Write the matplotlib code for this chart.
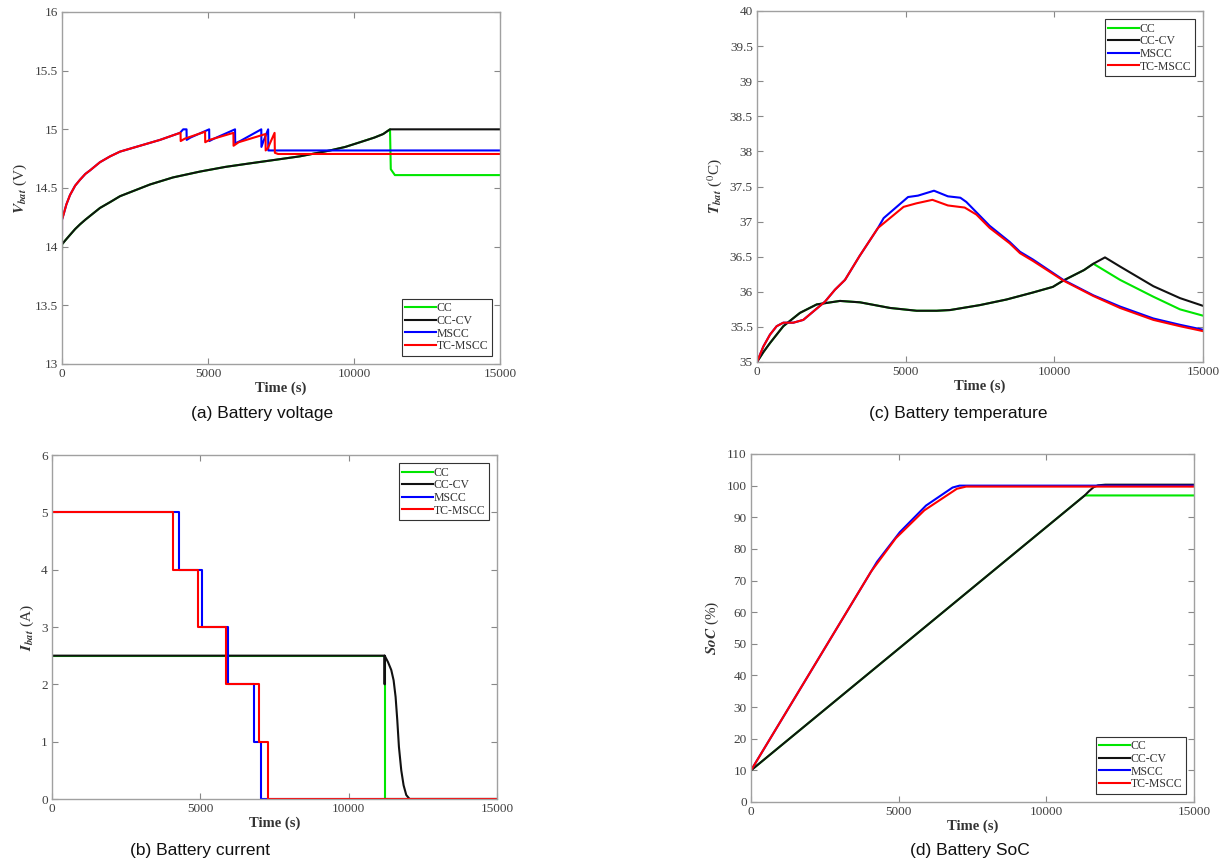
import matplotlib
matplotlib.use('Agg')
import matplotlib.pyplot as plt
from matplotlib.ticker import FixedLocator, FixedFormatter

plt.rcParams['font.family'] = ['Liberation Serif', 'DejaVu Serif']
plt.rcParams['mathtext.fontset'] = 'stix'

names = ['CC', 'CC-CV', 'MSCC', 'TC-MSCC']
cols = ['#00e600', '#111111', '#0000ff', '#ff0000']

# (a) battery voltage
v_cccv_t = [0, 0, 100, 274, 450, 616, 800, 1000, 1301, 1650, 1986, 2500, 3014, 3800, 4726, 5600, 6438, 7300, 8151, 9178, 9700, 10205, 10700, 11000, 11233, 15000]
v_cccv = [13.98, 14.02, 14.05, 14.10, 14.15, 14.19, 14.23, 14.27, 14.33, 14.38, 14.43, 14.48, 14.53, 14.59, 14.64, 14.68, 14.71, 14.74, 14.77, 14.82, 14.85, 14.89, 14.93, 14.96, 15.0, 15.0]
v_cc_t = v_cccv_t[:-1] + [11260, 11400, 15000]
v_cc = v_cccv[:-1] + [14.66, 14.61, 14.61]
v_ms_t = [0, 0, 60, 150, 274, 450, 616, 800, 959, 1301, 1650, 1986, 2671, 3356, 4041, 4150, 4265, 4270, 4400, 5040, 5045, 5200, 5926, 5931, 6100, 6825, 6830, 6900, 7060, 7065, 15000]
v_ms = [14.10, 14.23, 14.28, 14.36, 14.44, 14.52, 14.57, 14.62, 14.65, 14.72, 14.77, 14.81, 14.86, 14.91, 14.97, 15.0, 15.0, 14.91, 14.93, 15.0, 14.90, 14.92, 15.0, 14.88, 14.90, 15.0, 14.85, 14.90, 15.0, 14.82, 14.82]
v_tc_t = [0, 0, 60, 150, 274, 450, 616, 800, 959, 1301, 1650, 1986, 2671, 3356, 4041, 4060, 4065, 4200, 4900, 4905, 5050, 5870, 5875, 6050, 6970, 6975, 7050, 7280, 7290, 7400, 15000]
v_tc = [14.10, 14.23, 14.28, 14.36, 14.44, 14.52, 14.57, 14.62, 14.65, 14.72, 14.77, 14.81, 14.86, 14.91, 14.97, 14.97, 14.90, 14.92, 14.98, 14.89, 14.91, 14.97, 14.86, 14.89, 14.96, 14.82, 14.84, 14.97, 14.80, 14.79, 14.79]

# (b) battery current
i_cc_t = [0, 11212, 15000]
i_cc = [2.5, 0, 0]
i_cccv_t = [0, 11212, 11212, 11213, 11324, 11436, 11515, 11582, 11638, 11694, 11773, 11851, 11941, 12053, 15000]
i_cccv = [2.5, 2.5, 2.0, 2.5, 2.39, 2.25, 2.07, 1.78, 1.38, 0.91, 0.5, 0.24, 0.07, 0.0, 0.0]
i_ms_t = [0, 4265, 5040, 5926, 6825, 7060, 15000]
i_ms = [5, 4, 3, 2, 1, 0, 0]
i_tc_t = [0, 4063, 4905, 5870, 6970, 7284, 15000]
i_tc = [5, 4, 3, 2, 1, 0, 0]

# (c) battery temperature
t_cccv_t = [0, 213, 437, 885, 1446, 2007, 2791, 3464, 4473, 5370, 6043, 6491, 7490, 8390, 9280, 9950, 10300, 11000, 11312, 11704, 12210, 13330, 14226, 15000]
t_cccv = [35.0, 35.14, 35.27, 35.51, 35.70, 35.82, 35.87, 35.85, 35.77, 35.73, 35.73, 35.74, 35.81, 35.89, 35.99, 36.07, 36.16, 36.31, 36.40, 36.49, 36.36, 36.08, 35.91, 35.80]
t_cc_t = t_cccv_t[:19] + [12210, 13330, 14226, 15000]
t_cc = t_cccv[:19] + [36.17, 35.93, 35.75, 35.66]
t_tc_t = [0, 213, 437, 661, 885, 1222, 1558, 1894, 2287, 2623, 2960, 3450, 4070, 4930, 5360, 5900, 6420, 6985, 7380, 7825, 8500, 8845, 9280, 10302, 11312, 12210, 13330, 14226, 15000]
t_tc = [35.0, 35.22, 35.39, 35.51, 35.56, 35.56, 35.60, 35.72, 35.86, 36.03, 36.17, 36.51, 36.91, 37.21, 37.26, 37.31, 37.23, 37.20, 37.10, 36.91, 36.69, 36.55, 36.44, 36.16, 35.94, 35.77, 35.60, 35.51, 35.44]
t_ms_t = t_tc_t[:13] + [4260, 5080, 5415, 5953, 6420, 6840, 7040, 7825, 8500, 8845, 9280, 10302, 11312, 12210, 13330, 14226, 15000]
t_ms = t_tc[:13] + [37.05, 37.35, 37.37, 37.44, 37.36, 37.34, 37.28, 36.94, 36.71, 36.57, 36.46, 36.17, 35.95, 35.79, 35.62, 35.53, 35.46]

# (d) battery SoC
s_cccv_t = [0, 11300, 11450, 11600, 11750, 12000, 15000]
s_cccv = [10, 96.9, 98.3, 99.5, 100.1, 100.3, 100.3]
s_cc_t = [0, 11300, 15000]
s_cc = [10, 96.9, 96.9]
s_ms_t = [0, 4265, 5040, 5926, 6825, 7060, 15000]
s_ms = [10, 75.9, 85.3, 93.7, 99.4, 100.0, 100.0]
s_tc_t = [0, 4063, 4905, 5870, 6970, 7284, 15000]
s_tc = [10, 72.8, 83.4, 92.2, 99.0, 99.7, 99.7]

x_ticks = [0, 5000, 10000, 15000]
x_labels = ['0', '5000', '10000', '15000']

W, H = 1228, 864
fig = plt.figure(figsize=(W / 100, H / 100), dpi=100)


def box(l, t, r, b):
    return [l / W, 1 - b / H, (r - l) / W, (b - t) / H]


def style(ax, yticks, ylabel, legloc):
    ax.set_xlim(0, 15000)
    ax.set_ylim(yticks[0], yticks[-1])
    ax.xaxis.set_major_locator(FixedLocator(x_ticks))
    ax.xaxis.set_major_formatter(FixedFormatter(x_labels))
    ax.yaxis.set_major_locator(FixedLocator(yticks))
    ax.yaxis.set_major_formatter(FixedFormatter(['%g' % y for y in yticks]))
    ax.tick_params(direction='in', top=True, right=True, length=4, width=0.8,
                   color='#888888', labelcolor='#404040', labelsize=9.5, pad=3)
    for s in ax.spines.values():
        s.set_color('#a0a0a0')
        s.set_linewidth(1.0)
    ax.set_xlabel('Time (s)', fontweight='bold', fontsize=10.5, color='#333333', labelpad=1)
    ax.set_ylabel(ylabel, fontsize=11, color='#333333', labelpad=4)
    leg = ax.legend(loc=legloc, fontsize=8.5, handlelength=2.6, handletextpad=0.05,
                    labelspacing=0.05, borderpad=0.3, borderaxespad=0.7,
                    fancybox=False, framealpha=1)
    leg.get_frame().set_edgecolor('#333333')
    leg.get_frame().set_linewidth(0.8)
    for txt in leg.get_texts():
        txt.set_color('#333333')


lw = 1.5

axa = fig.add_axes(box(62, 12, 500, 364))
for tt, vv, c, n in [(v_cc_t, v_cc, cols[0], names[0]), (v_cccv_t, v_cccv, cols[1], names[1]),
                     (v_ms_t, v_ms, cols[2], names[2]), (v_tc_t, v_tc, cols[3], names[3])]:
    axa.plot(tt, vv, color=c, lw=lw, label=n)
style(axa, [13, 13.5, 14, 14.5, 15, 15.5, 16], r'$\mathbfit{V}_{\mathbfit{bat}}$ (V)', 'lower right')

axb = fig.add_axes(box(52, 455, 497, 799))
axb.step(i_cc_t, i_cc, where='post', color=cols[0], lw=lw, label=names[0])
axb.plot(i_cccv_t, i_cccv, color=cols[1], lw=lw, label=names[1])
axb.step(i_ms_t, i_ms, where='post', color=cols[2], lw=lw, label=names[2])
axb.step(i_tc_t, i_tc, where='post', color=cols[3], lw=lw, label=names[3])
style(axb, [0, 1, 2, 3, 4, 5, 6], r'$\mathbfit{I}_{\mathbfit{bat}}$ (A)', 'upper right')

axc = fig.add_axes(box(757, 11, 1203, 362))
for tt, vv, c, n in [(t_cc_t, t_cc, cols[0], names[0]), (t_cccv_t, t_cccv, cols[1], names[1]),
                     (t_ms_t, t_ms, cols[2], names[2]), (t_tc_t, t_tc, cols[3], names[3])]:
    axc.plot(tt, vv, color=c, lw=lw, label=n)
style(axc, [35, 35.5, 36, 36.5, 37, 37.5, 38, 38.5, 39, 39.5, 40],
      r'$\mathbfit{T}_{\mathbfit{bat}}$ ($^{0}$C)', 'upper right')

axd = fig.add_axes(box(751, 454, 1194, 802))
for tt, vv, c, n in [(s_cc_t, s_cc, cols[0], names[0]), (s_cccv_t, s_cccv, cols[1], names[1]),
                     (s_ms_t, s_ms, cols[2], names[2]), (s_tc_t, s_tc, cols[3], names[3])]:
    axd.plot(tt, vv, color=c, lw=lw, label=n)
style(axd, list(range(0, 111, 10)), r'$\mathbfit{SoC}$ (%)', 'lower right')

caps = [('(a) Battery voltage', 262, 413), ('(c) Battery temperature', 958, 413),
        ('(b) Battery current', 200, 850), ('(d) Battery SoC', 970, 850)]
for txt, x, y in caps:
    fig.text(x / W, 1 - y / H, txt, ha='center', va='center', fontsize=12.5,
             family=['Liberation Sans', 'DejaVu Sans'], color='#111111')

fig.savefig('out.png', dpi=100)
